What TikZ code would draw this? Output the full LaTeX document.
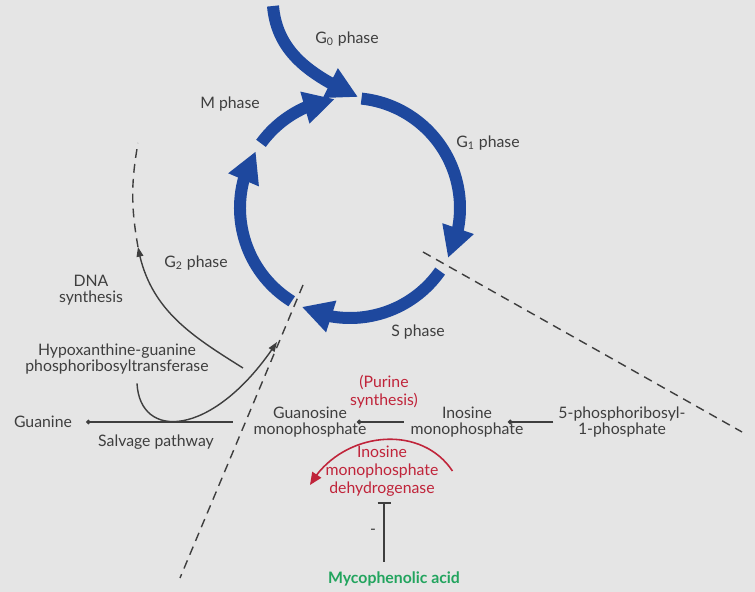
\documentclass[tikz,border=0pt]{standalone}
\usepackage{fontspec}
\setmainfont{Lato}
\usepackage{tikz}
\usetikzlibrary{arrows.meta}
\usetikzlibrary{bending}
\usetikzlibrary{positioning}
\definecolor{cblue}{RGB}{30, 72, 158}
\definecolor{mgray}{RGB}{62, 62, 62}
\definecolor{mred}{RGB}{192, 36, 58}
\definecolor{mgreen}{RGB}{34, 164, 94}
\definecolor{paper}{RGB}{229, 229, 229}
\tikzset{cyclearc/.style = {line width = 0.24cm, cblue, -{Triangle[width = 0.62cm, length = 0.62cm]}}}
\tikzset{lbl/.style = {align = center, text = mgray, font = \fontsize{9}{9.2}\selectfont, inner sep = 1}}
\tikzset{redlbl/.style = {lbl, text = mred, font = \fontsize{9}{10.4}\selectfont}}
\tikzset{cutline/.style = {dash pattern = on 5pt off 3.5pt, line width = 0.8pt, mgray}}
\tikzset{dotend/.style = {line width = 0.8pt, mgray, -{Circle[length = 2.6pt]}}}
\tikzset{blackarrow/.style = {line width = 0.8pt, mgray, -{Triangle[length = 5.5pt, width = 3.8pt]}}}
\tikzset{inhibit/.style = {line width = 1.2pt, mgray, -{Bar[width = 0.26cm, line width = 1.2pt]}}}

\begin{document}
\begin{tikzpicture}[x = 0.02cm, y = 0.02cm]
      \fill [paper] (0, 0) rectangle (755, 592);
      \useasboundingbox (0, 0) rectangle (755, 592);

      \coordinate (c) at (350, 384);
      \draw [cyclearc] ([shift = {(84:110)}]c) arc [start angle = 84, end angle = -27, radius = 110];
      \draw [cyclearc] ([shift = {(-35:110)}]c) arc [start angle = -35, end angle = -116, radius = 110];
      \draw [cyclearc] ([shift = {(-122:110)}]c) arc [start angle = -122, end angle = -211, radius = 110];
      \draw [cyclearc] ([shift = {(144:110)}]c) arc [start angle = 144, end angle = 98, radius = 110];
      \draw [cyclearc] (273, 586) to [out = -85, in = 155] (358, 495);

      \node [lbl] (g0) at (347, 553) {G\textsubscript{0} phase};
      \node [lbl] (g1) at (488, 449) {G\textsubscript{1} phase};
      \node [lbl] (s) at (418, 260) {S phase};
      \node [lbl] (g2) at (196, 329) {G\textsubscript{2} phase};
      \node [lbl] (m) at (230, 488) {M phase};

      \node [lbl] (dna) at (91, 302) {DNA\\synthesis};
      \node [lbl] (hgprt) at (117, 233) {Hypoxanthine-guanine\\phosphoribosyltransferase};
      \node [lbl] (guanine) at (43, 170) {Guanine};
      \node [lbl] (salvage) at (156, 150) {Salvage pathway};
      \node [lbl] (gmp) at (310, 170) {Guanosine\\monophosphate};
      \node [redlbl] (purine) at (384, 200) {(Purine\\synthesis)};
      \node [lbl] (imp) at (467, 170) {Inosine\\monophosphate};
      \node [lbl] (prpp) at (622, 170) {5-phosphoribosyl-\\1-phosphate};
      \node [redlbl] (impdh) at (382, 121) {Inosine\\monophosphate\\dehydrogenase};
      \node [lbl] (minus) at (373, 60) {-};
      \node [lbl, text = mgreen, font = \bfseries\fontsize{9}{10}\selectfont] (mpa) at (394, 13) {Mycophenolic acid};

      \draw [cutline] (423, 340) -- (742, 160);
      \draw [cutline] (303, 307) -- (180, 14);

      \coordinate (dnafoot) at (243, 224);
      \coordinate (dnatip) at (138, 345);
      \coordinate (dnaend) at (138, 449);
      \draw [blackarrow] (dnafoot) to [out = 148, in = -80] (dnatip);
      \draw [cutline] (dnatip) to [bend left = 10] (dnaend);

      \coordinate (entry) at (277, 250);
      \draw [blackarrow] ([shift = {(0.4cm, -0.14cm)}]hgprt.south) .. controls (140, 150) and (215, 155) .. (entry);

      \draw [dotend] ([xshift = -0.38cm]gmp.west) -- ([xshift = 0.24cm]guanine.east);
      \draw [dotend] ([xshift = -0.1cm]imp.west) -- ([xshift = -0.23cm]gmp.east);
      \draw [dotend] ([xshift = -0.06cm]prpp.west) -- ([xshift = -0.35cm]imp.east);

      \draw [mred, line width = 0.9pt, -{Triangle[length = 7pt, width = 6pt]}] ([xshift = 0.24cm]impdh.east) .. controls (420, 170) and (340, 160) .. (310, 107);

      \coordinate (block) at (384, 90);
      \draw [inhibit, shorten <= 0.16cm] (mpa.north -| block) -- (block);
    \end{tikzpicture}
\end{document}
